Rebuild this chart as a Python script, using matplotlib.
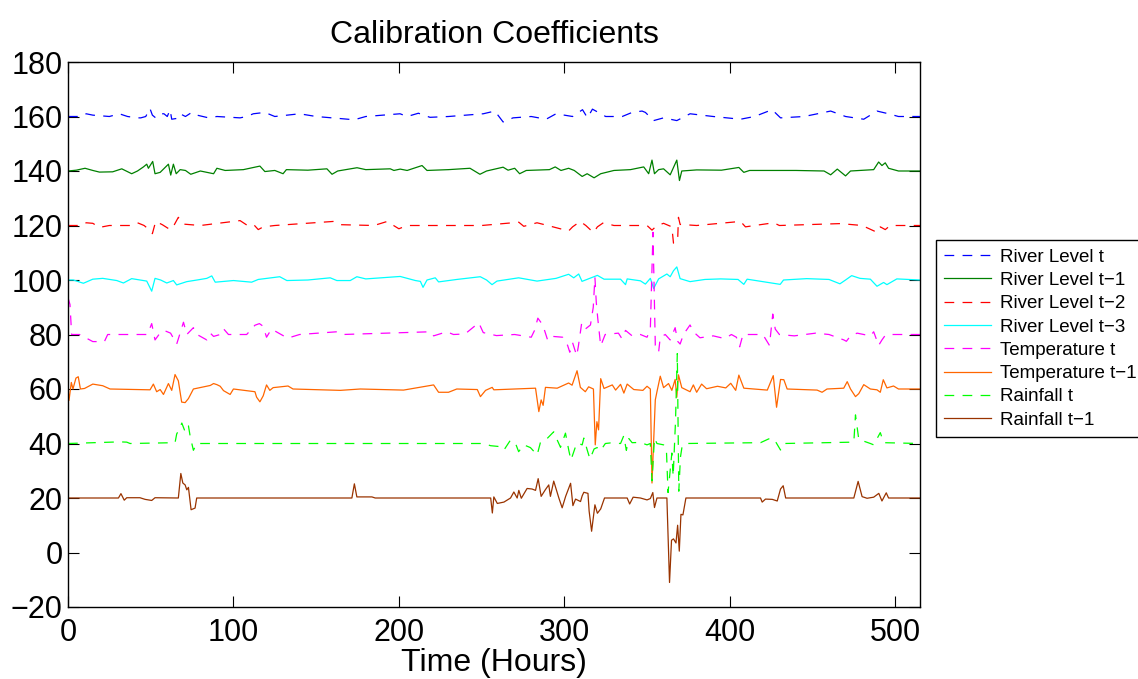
import numpy as np
import matplotlib
matplotlib.use("Agg")
import matplotlib.pyplot as plt

plt.rcParams['font.family'] = ['Liberation Sans', 'DejaVu Sans']
plt.rcParams['lines.scale_dashes'] = False

# (hour, coefficient) pairs
river_t = [
    (0, 160), (8, 160), (11, 161), (15, 160.5), (25, 160), (31, 161), (36, 160), (42, 159.5),
    (44, 159.5), (47, 160), (49.5, 163), (51, 160.5), (53, 159.5), (56, 161), (58, 161), (60, 160),
    (61.7, 162.5), (62.7, 159), (65.8, 159.3), (67.8, 161), (71, 160), (74.8, 161.5), (78, 160.5),
    (85, 159.5), (90, 160), (104, 159.5), (108, 160), (112, 161), (119, 161.5), (125, 160),
    (140, 161), (150, 160), (173, 158.8), (180, 160), (200.7, 161), (205, 160), (211.8, 161.2),
    (218.8, 159.7), (230, 160), (251, 161), (258, 162), (263, 158), (269, 159.5), (280, 160),
    (289, 159), (295, 161), (305, 160), (311, 162.5), (314, 159.5), (317, 162.7), (325, 160),
    (335, 160), (341, 161.5), (347, 162), (349, 161.5), (354, 158.5), (360, 159.5), (368, 158.5),
    (376, 161), (390, 160), (406.5, 159), (415, 160), (425.6, 162.5), (430.7, 159.5), (445, 160),
    (461, 162), (470, 160), (481, 159), (489, 162), (496, 161), (502, 160), (515, 160),
]
river_t1 = [
    (0, 140), (5, 140.3), (10.3, 141), (15, 140.2), (19, 139.6), (27, 139.7), (32.5, 140.8),
    (38.5, 139), (42, 140), (45.6, 141.5), (47.6, 142.5), (48.6, 141), (51.2, 143.5), (52.6, 139),
    (55.7, 139.5), (60.7, 142.5), (62.1, 138.5), (63.7, 142.5), (65.4, 139), (67.8, 140.5),
    (71, 140.2), (74.2, 138.8), (80, 140), (88, 139), (90, 141), (95, 140.2), (106, 140.5),
    (116, 141.8), (119, 139.8), (125, 140.2), (130, 139), (132, 140.5), (145, 140.3),
    (156.5, 140.8), (159.6, 138.8), (163, 140), (174.7, 141.2), (180, 140.5), (194.8, 140.8),
    (197, 140.2), (200.8, 140.7), (205, 140.2), (214, 142), (217, 140.2), (230, 140.5), (243, 141),
    (249, 138.8), (253, 140), (263, 141.4), (266, 140.3), (270, 141), (273, 139), (277, 140.2),
    (291, 140.5), (294.5, 141.5), (298, 140.2), (302.6, 141), (306, 140.2), (310.8, 138),
    (313.8, 139), (318, 137.5), (322, 139), (330, 140.2), (340, 140.5), (348, 141.5), (351, 139),
    (353, 144), (354.5, 139), (357, 140.5), (360, 140.8), (364, 138.6), (368, 144), (369.6, 136.5),
    (371, 140), (380, 140.4), (395, 140.3), (405.5, 141.3), (408.5, 139.5), (412, 140.2),
    (440, 140.2), (457, 140), (461, 138.6), (465, 140.7), (470, 138.2), (473, 140), (487, 140.5),
    (490, 143.3), (492, 142), (494, 143), (496, 141), (502, 140), (515, 140),
]
river_t2 = [
    (0, 120), (8, 120), (11, 121), (15, 120.8), (19, 119.3), (25, 120), (38, 120), (42, 121),
    (46, 120), (49, 118.5), (51, 117), (53, 121.5), (57, 120.3), (61.7, 118.5), (64, 120),
    (66.7, 123), (70, 120.5), (80, 120), (104, 121.8), (108, 120.2), (112, 120.5), (115, 118.5),
    (118, 119.5), (125, 120), (160.6, 121.5), (164.6, 120.3), (185, 120), (193, 121.5),
    (196, 120.3), (200, 118.8), (205, 120), (250, 120), (272.5, 121.2), (275.5, 119.7),
    (283.5, 121), (290, 120), (302.6, 118), (305, 119.5), (309.6, 121.5), (313, 120),
    (317.6, 117.4), (320, 119.5), (323.6, 121), (330, 120), (350, 120), (353, 118.3), (356, 120),
    (360, 120.8), (365, 119.5), (366, 113.5), (368.5, 114.5), (369, 123), (370, 120.4), (380, 120),
    (406.5, 121.5), (409.5, 119.5), (415, 120), (426.6, 121), (430, 120), (467, 120.7), (480, 120),
    (489, 117.5), (491, 119.5), (494, 118.5), (497, 120), (515, 120),
]
river_t3 = [
    (0, 100), (3.2, 100), (9.3, 98.8), (15, 100.3), (21, 100.6), (29.5, 99.8), (33.5, 98.9),
    (38.5, 100.5), (47.6, 99.6), (50.6, 95.9), (52.6, 100.6), (56, 100), (59.7, 98.9), (63.7, 99.8),
    (65.7, 98.2), (71.8, 99.4), (78, 100), (83.9, 100.6), (86.9, 101.5), (89, 99.2), (100, 99.8),
    (111, 99.2), (115, 100.2), (128, 101.2), (132.3, 99.8), (145, 100), (158.5, 100.8),
    (162.5, 99.8), (170.6, 99.8), (174.6, 101.2), (180, 100.4), (200.8, 101.3), (210, 99.8),
    (213, 99.5), (214.6, 97.3), (217, 100), (222, 100.8), (224, 99.3), (235, 100.2), (249.2, 101.2),
    (253, 100), (256.3, 98.3), (259.3, 99.6), (272.4, 100.8), (283.5, 99.6), (295, 100.6),
    (302.6, 102.1), (305.7, 100.8), (308.7, 102.2), (310.7, 99.5), (320, 101.7), (324, 100.3),
    (334, 100.3), (337, 98.3), (338, 100.4), (346, 99.7), (349, 98.5), (352, 100.6), (354, 96.9),
    (357, 100.4), (362, 102.2), (364, 101.2), (366, 103.4), (368, 104.8), (370, 100.5), (376, 99.4),
    (385, 100.2), (394.5, 100.4), (405, 100.2), (408.5, 98.4), (410.5, 100.3), (430.5, 98.4),
    (432.5, 100), (446.5, 100.5), (460, 100.2), (466.6, 98.6), (470, 100), (473.7, 101.6),
    (478.7, 100.6), (485, 100.3), (489, 97.7), (493, 99.1), (495, 98.3), (501, 100.4), (515, 100),
]
temp_t = [
    (0, 93.5), (1.2, 91), (2.2, 80), (7, 80), (15, 77.4), (22, 77.4), (24, 80), (48, 80),
    (50.6, 84), (52.6, 78), (55, 80), (58, 81.5), (62, 80.5), (65.7, 76.5), (67, 79), (69.8, 84.5),
    (71.8, 80), (75.8, 82.5), (78, 80), (83.9, 78), (86, 80.5), (88, 79.3), (92, 80), (94, 82.1),
    (97, 80), (108, 80), (113, 83.4), (115.7, 84), (118, 83), (120, 79), (123, 82), (130, 79.6),
    (133, 78.7), (140, 80), (162.5, 81), (166, 80), (219, 81), (221, 79.5), (229, 81), (233, 80),
    (240, 80.2), (248.3, 84.3), (251, 80.7), (259, 79.6), (270, 80), (280, 79), (282, 81.5),
    (284, 86), (287, 83.5), (290, 77.8), (293, 79.3), (299, 79), (302, 76), (303.3, 73.5),
    (305, 77), (307.5, 72.2), (308.5, 75.7), (310.5, 84.2), (312.7, 82), (315.8, 83.5),
    (317.5, 90), (318.5, 101), (319.3, 92), (320.2, 86), (322, 75.8), (324.7, 80), (332.7, 80.5),
    (334.8, 78.5), (337, 81.5), (341, 79.5), (346, 80), (350, 79), (352, 82), (353.6, 117.5),
    (355, 76), (357, 73.5), (358, 79), (361, 80), (364, 78), (367, 82.5), (368.5, 77.5),
    (370, 76.5), (372, 80), (376, 83.5), (378, 81), (382, 78.8), (390, 79.5), (397, 78.5),
    (401, 80), (404, 79), (406, 75.5), (408, 80), (420, 80), (424, 76), (426, 87.5), (427.5, 82),
    (430, 80), (439, 79.5), (452, 80.5), (460, 80), (469, 78), (470.5, 77.5), (473, 79.5),
    (477, 80.5), (485, 79.5), (487, 81), (490, 76), (492, 78), (494, 79.7), (497, 80), (515, 80),
]
temp_t1 = [
    (0, 60), (0.6, 55.8), (2, 62.4), (3, 60), (4.8, 64), (6.2, 64.5), (7.5, 60), (10, 60.2),
    (15, 61.8), (21, 61.2), (25.4, 60), (49.6, 59.7), (51.6, 61.8), (53.6, 59), (55.7, 59.8),
    (57.7, 58), (60.7, 62), (62.7, 59.5), (64.7, 65.3), (66.7, 63), (68.7, 55.2), (70.8, 55),
    (72.8, 56.5), (75.8, 60), (86, 61.3), (88, 62), (90, 61.6), (92, 61), (94, 59.4), (98, 58),
    (100, 60), (113, 59), (114, 57), (116, 55.3), (118, 57.5), (120, 61.5), (122, 59.5),
    (124, 60.5), (133, 61.1), (136, 60), (164.6, 59.5), (176.7, 60), (202.8, 59.6), (221, 61.5),
    (224, 58.8), (230, 58.8), (235, 60), (247.4, 59.8), (249.3, 57.2), (252.4, 59.5),
    (256.4, 60.6), (257.4, 59.7), (282.6, 60.3), (284.6, 51.7), (286, 56), (287.2, 54),
    (288.6, 60.6), (295.7, 60.3), (302.6, 62.2), (304.7, 61.4), (307.7, 66.7), (309.7, 60.6),
    (312.7, 59), (314.7, 60.8), (317.6, 60), (318.7, 39.5), (319.7, 48), (320.7, 45), (322, 63.8),
    (324, 60.2), (329, 61.5), (331, 59.6), (334, 61.7), (336, 58.5), (338, 61.8), (342, 59.8),
    (347.5, 59.5), (350, 61), (352, 60), (353, 25.5), (355, 56), (356, 59), (358, 64.7),
    (360, 60.5), (363, 62), (365, 59.5), (367, 63.5), (368, 57), (369, 65.2), (371, 60.5),
    (376, 59), (378, 61.5), (380, 58.8), (383, 61.8), (386, 60.1), (392.6, 61), (397.6, 60.4),
    (400.6, 62.1), (403.6, 59.5), (405.5, 65.1), (408.5, 60.3), (422.7, 59.6), (426.3, 64.9),
    (428.3, 53.3), (430.7, 63.5), (432.7, 63.4), (434.7, 60), (452.8, 59.6), (455.8, 58.8),
    (458.8, 60), (468.9, 60.3), (471, 62.7), (473, 60), (476, 57.2), (478, 58.3), (481, 61.6),
    (485, 60), (489, 59.7), (491, 58.8), (492.8, 63.4), (495, 60.4), (499, 61.1), (502, 60),
    (515, 60),
]
rain_t = [
    (0, 40), (31.5, 40.6), (35.5, 40.5), (37.5, 40), (64.7, 40.3), (65.7, 43.5), (67.3, 45.3),
    (68.8, 47.5), (70.8, 44.3), (72.8, 46.5), (73.8, 42.8), (75.8, 37.5), (77.8, 40),
    (251.3, 40), (255.4, 39.2), (260.4, 38.9), (263.4, 37.5), (267.4, 41.2), (270.4, 40.2),
    (272.4, 37), (275.5, 39.5), (279.5, 38.5), (283.6, 35.8), (285.6, 40.5), (288.6, 41.2),
    (293.6, 44.3), (295.7, 41.3), (297.7, 38.6), (300.7, 43.8), (302.7, 37.5), (304, 33.9),
    (306.8, 38.9), (307.8, 40.2), (310.8, 39.5), (311.8, 42), (313.8, 37.7), (315.5, 34.3),
    (318, 38), (319.8, 38.5), (321.8, 37.3), (324.8, 40), (327.8, 40.2), (334, 40), (335.9, 42.8),
    (337.5, 37.5), (339, 41.8), (341, 40.3), (346, 40.4), (350, 39.5), (352, 40), (353, 26.3),
    (354.5, 42), (356, 40), (360, 39.5), (361.7, 38), (362.7, 22), (365, 36.5), (365.8, 28),
    (367.2, 48), (368.3, 73), (369.2, 22.5), (370.2, 35), (371.2, 39), (373.2, 40), (418.6, 40.3),
    (423.6, 41.7), (426.7, 41.7), (430.7, 37.6), (432.7, 40), (475, 40.5), (476, 50.5),
    (478, 41.5), (485, 40), (487, 39.5), (491, 44), (493, 40.3), (515, 40),
]
rain_t1 = [
    (0, 20), (30.5, 20), (32, 21.6), (34, 19.2), (35.5, 20.1), (43.5, 20.1), (46.6, 19.5),
    (50.6, 19.1), (52.6, 20.1), (66.7, 20), (68.2, 29), (69.4, 25.5), (70.8, 24.8), (71.8, 23),
    (72.8, 23.9), (74.4, 15.7), (76.8, 16.3), (77.8, 20), (171.6, 20), (173.1, 25.2),
    (174.6, 20.4), (183.7, 20.4), (185.7, 20), (255.5, 20), (256.5, 14.5), (257.4, 20.4),
    (259.5, 18), (263.5, 18.5), (267.5, 20), (269.5, 22.2), (271.5, 20), (272.5, 22.8),
    (274, 19.9), (277.5, 23.5), (280.5, 23.3), (282.6, 22.8), (284.2, 27.1), (286, 20.6),
    (288.6, 23.1), (290.6, 24.8), (291.6, 20.6), (293.6, 26.2), (296.7, 20), (298.7, 16.4),
    (300.8, 20.6), (303.8, 25.4), (305.2, 17.2), (306.8, 19.6), (309.8, 18.7), (310.8, 20.8),
    (311.8, 22.1), (314.3, 21.7), (315, 15.2), (316.5, 7.8), (318.5, 17.5), (320, 14.4),
    (322, 16), (324.3, 20), (338, 20), (339.5, 17.8), (341.6, 20.3), (346, 20), (350, 19.3),
    (352, 19.8), (353.5, 22), (354.5, 16.5), (356, 20), (362, 20), (363.6, -11), (364.8, 4.5),
    (366, 5), (367.5, 3.5), (368.5, 10), (369.5, 0.5), (370.5, 14), (371.7, 13.8), (373.5, 20),
    (418.6, 20), (419.6, 18.5), (421.6, 19.6), (425.7, 19.5), (428.7, 18.9), (430.7, 23.3),
    (432.3, 24.5), (433.8, 20), (475, 20), (477.6, 26.1), (480, 20.5), (483, 19.9), (487, 20.3),
    (490.1, 21.7), (492, 18.9), (494.6, 21.9), (496, 20), (515, 20),
]

labels = ['River Level t', 'River Level t\u22121', 'River Level t\u22122', 'River Level t\u22123',
          'Temperature t', 'Temperature t\u22121', 'Rainfall t', 'Rainfall t\u22121']
series = [river_t, river_t1, river_t2, river_t3, temp_t, temp_t1, rain_t, rain_t1]
colors = ['#0000ff', '#008000', '#ff0000', '#00ffff', '#ff00ff', '#ff6600', '#00ff00', '#993300']
dashed = [True, False, True, False, True, False, True, False]

fig = plt.figure(figsize=(11.38, 6.79), dpi=100)
ax = fig.add_axes([68 / 1138, 1 - 607 / 679, (920 - 68) / 1138, (607 - 62) / 679])

for pts, lab, c, d in zip(series, labels, colors, dashed):
    arr = np.array(pts).T
    if d:
        ax.plot(arr[0], arr[1], color=c, lw=0.9, dashes=(7, 6), label=lab)
    else:
        ax.plot(arr[0], arr[1], color=c, lw=0.9, label=lab)

ax.set_xlim(0, 515)
ax.set_ylim(-20, 180)
ax.set_xticks([0, 100, 200, 300, 400, 500])
ax.set_yticks(np.arange(-20, 181, 20))
ax.tick_params(direction='in', length=8, width=0.8, labelsize=22, top=True, right=True)
ax.tick_params(axis='x', pad=8)
ax.tick_params(axis='y', pad=4)
for s in ax.spines.values():
    s.set_linewidth(1.0)

ax.set_title('Calibration Coefficients', fontsize=23, pad=14)
ax.set_xlabel('Time (Hours)', fontsize=23, labelpad=0)

ax.legend(loc='upper left', bbox_to_anchor=(936 / 1138, 1 - 240 / 679),
          bbox_transform=fig.transFigure, borderaxespad=0, fontsize=13.5,
          handlelength=2.5, labelspacing=0.33, fancybox=False, framealpha=1,
          edgecolor='black', borderpad=0.45, handletextpad=0.45)

fig.savefig('out.png', dpi=100)
